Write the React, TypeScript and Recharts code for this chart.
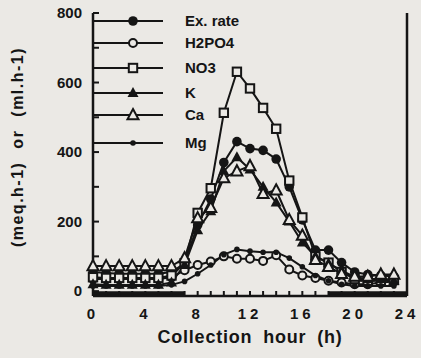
import React from "react";
import {
  LineChart, Line, XAxis, YAxis, Legend, ReferenceArea,
} from "recharts";

// collection hours
const hours = [0, 1, 2, 3, 4, 5, 6, 7, 8, 9, 10, 11, 12, 13, 14, 15, 16, 17, 18, 19, 20, 21, 22, 23];

// values
const exRate = [55, 52, 50, 50, 50, 50, 55, 80, 190, 265, 370, 430, 410, 405, 380, 300, 205, 118, 118, 82, 55, 48, 45, 42];
const h2po4 = [35, 35, 35, 35, 35, 35, 40, 60, 75, 85, 100, 93, 93, 87, 103, 62, 45, 38, 30, 25, 20, 20, 25, 28];
const no3 = [40, 38, 38, 38, 38, 38, 45, 80, 225, 296, 513, 631, 583, 527, 467, 318, 212, 100, 82, 55, 35, 30, 30, 32];
const k = [20, 18, 18, 18, 18, 18, 25, 75, 175, 230, 345, 385, 350, 300, 255, 200, 140, 100, 80, 60, 40, 35, 35, 30];
const ca = [72, 72, 72, 72, 72, 72, 72, 95, 210, 240, 325, 345, 360, 280, 290, 205, 160, 90, 70, 50, 42, 42, 48, 48];
const mg = [15, 15, 15, 15, 15, 15, 18, 28, 50, 75, 105, 120, 115, 112, 112, 95, 70, 45, 30, 20, 15, 15, 15, 15];

// dark periods (bars on the hour axis)
const darkPeriods = [[0, 7], [18, 24]];

const xTicks = [0, 1, 2, 3, 4, 5, 6, 7, 8, 9, 10, 11, 12, 13, 14, 15, 16, 17, 18, 19, 20, 21, 22, 23, 24];
const yTicks = [0, 100, 200, 300, 400, 500, 600, 700, 800];

const INK = "#151515";
const PAPER = "#ebe9e5";
const FONT = "'Liberation Sans', Arial, sans-serif";

type Shape = "dot" | "circle" | "square" | "tri" | "triOpen" | "small";

const series: { key: string; name: string; shape: Shape; values: number[] }[] = [
  { key: "exRate", name: "Ex. rate", shape: "dot", values: exRate },
  { key: "h2po4", name: "H2PO4", shape: "circle", values: h2po4 },
  { key: "no3", name: "NO3", shape: "square", values: no3 },
  { key: "k", name: "K", shape: "tri", values: k },
  { key: "ca", name: "Ca", shape: "triOpen", values: ca },
  { key: "mg", name: "Mg", shape: "small", values: mg },
];

const data = hours.map((h, i) => {
  const row: { [key: string]: number } = { h };
  series.forEach((s) => { row[s.key] = s.values[i]; });
  return row;
});

const Marker = ({ shape, cx, cy }: { shape: Shape; cx: number; cy: number }) => {
  switch (shape) {
    case "dot":
      return <circle cx={cx} cy={cy} r={4.8} fill={INK} />;
    case "circle":
      return <circle cx={cx} cy={cy} r={4} fill={PAPER} stroke={INK} strokeWidth={2} />;
    case "square":
      return <rect x={cx - 4.2} y={cy - 4.2} width={8.4} height={8.4} fill={PAPER} stroke={INK} strokeWidth={2} />;
    case "tri":
      return <polygon points={`${cx},${cy - 6} ${cx + 5.5},${cy + 4} ${cx - 5.5},${cy + 4}`} fill={INK} />;
    case "triOpen":
      return <polygon points={`${cx},${cy - 6} ${cx + 5.5},${cy + 4.2} ${cx - 5.5},${cy + 4.2}`} fill={PAPER} stroke={INK} strokeWidth={2} />;
    default:
      return <circle cx={cx} cy={cy} r={2.8} fill={INK} />;
  }
};

// legend rows sit inside the plot, lines start at the axis
const legendRows = [21, 43, 68, 93, 115, 143];

const LegendBox = () => (
  <svg width={421} height={160} style={{ display: "block" }}>
    {series.map((s, i) => (
      <g key={s.key}>
        <line x1={93} x2={163} y1={legendRows[i]} y2={legendRows[i]} stroke={INK} strokeWidth={2} />
        <Marker shape={s.shape} cx={133} cy={legendRows[i]} />
        <text x={185} y={legendRows[i] + 5} fontSize={15} fontWeight="bold" fontFamily={FONT} fill={INK}>
          {s.name}
        </text>
      </g>
    ))}
  </svg>
);

export default function App() {
  return (
    <div style={{ position: "absolute", left: 0, top: 0, width: 421, height: 358, background: PAPER }}>
      <LineChart width={421} height={358} data={data} margin={{ top: 13, right: 0, left: 0, bottom: 0 }}>
        <XAxis
          dataKey="h"
          type="number"
          domain={[0, 24]}
          ticks={xTicks}
          interval={0}
          height={62}
          tickFormatter={(v: number) => (v % 4 === 0 ? String(v) : "")}
          tickSize={-5}
          tickMargin={17}
          axisLine={{ stroke: INK, strokeWidth: 2.5 }}
          tickLine={{ stroke: INK, strokeWidth: 2 }}
          tick={{ fill: INK, fontSize: 15, fontWeight: "bold", fontFamily: FONT, letterSpacing: 4 }}
          label={{
            value: "Collection hour (h)",
            position: "insideBottom",
            offset: 15,
            style: { fill: INK, fontSize: 18, fontWeight: "bold", fontFamily: FONT, letterSpacing: 0.8, wordSpacing: 5 },
          }}
        />
        <XAxis
          xAxisId="top"
          orientation="top"
          type="number"
          domain={[0, 24]}
          height={0}
          tick={false}
          tickLine={false}
          axisLine={{ stroke: INK, strokeWidth: 2.5 }}
        />
        <YAxis
          type="number"
          domain={[-14, 800]}
          ticks={yTicks}
          interval={0}
          width={93}
          tickFormatter={(v: number) => (v % 200 === 0 ? String(v) : "")}
          tickSize={-6}
          tickMargin={17}
          axisLine={{ stroke: INK, strokeWidth: 2.5 }}
          tickLine={{ stroke: INK, strokeWidth: 2 }}
          tick={{ fill: INK, fontSize: 15, fontWeight: "bold", fontFamily: FONT }}
          label={{
            content: () => (
              <text
                transform="translate(23,147) rotate(-90)"
                textAnchor="middle"
                fill={INK}
                fontSize={16}
                fontWeight="bold"
                fontFamily={FONT}
                style={{ letterSpacing: 1.5, wordSpacing: 7 }}
              >
                (meq.h-1) or (ml.h-1)
              </text>
            ),
          }}
        />
        <YAxis
          yAxisId="r"
          orientation="right"
          type="number"
          domain={[-14, 800]}
          ticks={yTicks}
          interval={0}
          width={14}
          tickFormatter={() => ""}
          tickSize={-6}
          axisLine={{ stroke: INK, strokeWidth: 2.5 }}
          tickLine={{ stroke: INK, strokeWidth: 2 }}
        />
        {darkPeriods.map(([a, b]) => (
          <ReferenceArea key={a} x1={a} x2={b} y1={-14} y2={0} fill={INK} fillOpacity={1} stroke="none" />
        ))}
        <Legend
          layout="horizontal"
          verticalAlign="middle"
          wrapperStyle={{ top: 0, left: 0, width: 421, height: 160, pointerEvents: "none" }}
          content={() => <LegendBox />}
        />
        {series.map((s) => (
          <Line
            key={s.key}
            dataKey={s.key}
            name={s.name}
            type="linear"
            stroke={INK}
            strokeWidth={2}
            isAnimationActive={false}
            dot={(p: any) => <Marker key={`${s.key}-${p.index}`} shape={s.shape} cx={p.cx} cy={p.cy} />}
            activeDot={false}
          />
        ))}
      </LineChart>
    </div>
  );
}
